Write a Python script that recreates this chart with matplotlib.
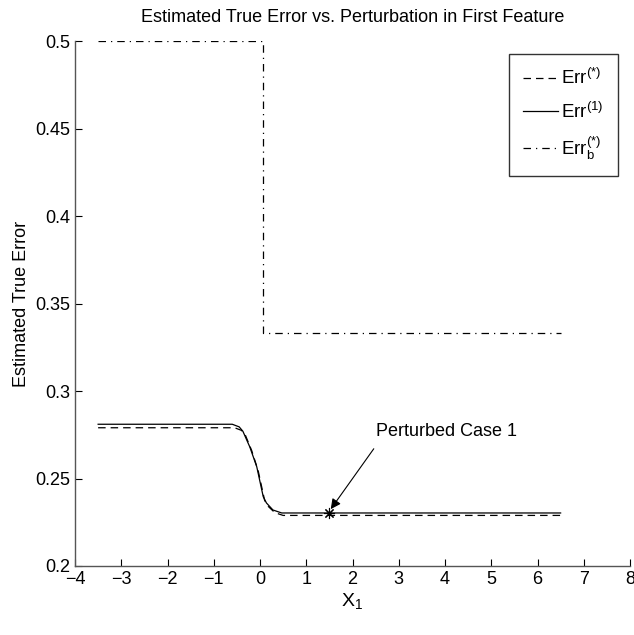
import matplotlib
matplotlib.use("Agg")
import matplotlib.pyplot as plt

plt.rcParams['font.family'] = ['Liberation Sans', 'DejaVu Sans']
plt.rcParams['mathtext.default'] = 'regular'

# Err^(1) curve
x_err1 = [-3.5, -0.6, -0.45, -0.37, -0.22, -0.07, 0.07, 0.14, 0.28, 0.47, 6.5]
y_err1 = [0.281, 0.281, 0.2795, 0.277, 0.268, 0.2567, 0.2396, 0.236, 0.232, 0.2303, 0.2303]

# Err^(*) curve
x_errs = [-3.5, -0.55, -0.4, -0.32, -0.18, -0.04, 0.1, 0.18, 0.32, 0.5, 6.5]
y_errs = [0.279, 0.279, 0.2775, 0.275, 0.266, 0.2545, 0.2375, 0.234, 0.2305, 0.2289, 0.2289]

# Err_b^(*) step
x_errb = [-3.5, 0.07, 0.07, 6.5]
y_errb = [0.5, 0.5, 0.3333, 0.3333]

case_x, case_y = 1.5, 0.2303

fig = plt.figure(figsize=(6.34, 6.35), dpi=100)
ax = fig.add_axes([75 / 634, 1 - 566 / 635, (630 - 75) / 634, (566 - 41) / 635])

ax.plot(x_errs, y_errs, 'k--', lw=0.9, dashes=(6, 4), label=r'Err$^{(*)}$')
ax.plot(x_err1, y_err1, 'k-', lw=0.9, label=r'Err$^{(1)}$')
ax.plot(x_errb, y_errb, 'k-.', lw=0.9, dashes=(6, 4, 1, 4), label=r'Err$_b^{(*)}$')
ax.plot([case_x], [case_y], 'k', marker=(8, 2, 0), ms=8, mew=0.8, ls='none')

ax.text(2.5, 0.2766, 'Perturbed Case 1', fontsize=13, va='center', ha='left')
ax.annotate('', xy=(1.53, 0.2325), xytext=(2.46, 0.267),
            arrowprops=dict(arrowstyle='-|>', color='k', lw=0.8,
                            mutation_scale=15, shrinkA=0, shrinkB=0))

ax.set_xlim(-4, 8)
ax.set_ylim(0.2, 0.5)
ax.set_xticks(range(-4, 9))
ax.set_xticklabels([str(v).replace('-', '\u2212') for v in range(-4, 9)])
ax.set_yticks([0.2, 0.25, 0.3, 0.35, 0.4, 0.45, 0.5])
ax.set_yticklabels(['0.2', '0.25', '0.3', '0.35', '0.4', '0.45', '0.5'])
ax.tick_params(direction='in', length=5, labelsize=13, width=0.8)

for s in ['top', 'right']:
    ax.spines[s].set_visible(False)
for s in ['left', 'bottom']:
    ax.spines[s].set_color('#555555')
    ax.spines[s].set_linewidth(1.0)

ax.set_title('Estimated True Error vs. Perturbation in First Feature', fontsize=13, pad=14)
ax.set_xlabel(r'X$_1$', fontsize=14, labelpad=2)
ax.set_ylabel('Estimated True Error', fontsize=13)

leg = ax.legend(loc='upper right', bbox_to_anchor=(0.978, 0.975), borderaxespad=0,
                fontsize=13.5, frameon=True, fancybox=False, edgecolor='k',
                handlelength=1.9, labelspacing=0.7, borderpad=0.75,
                handletextpad=0.15)
leg.get_frame().set_linewidth(1.0)

fig.savefig('out.png', dpi=100)
